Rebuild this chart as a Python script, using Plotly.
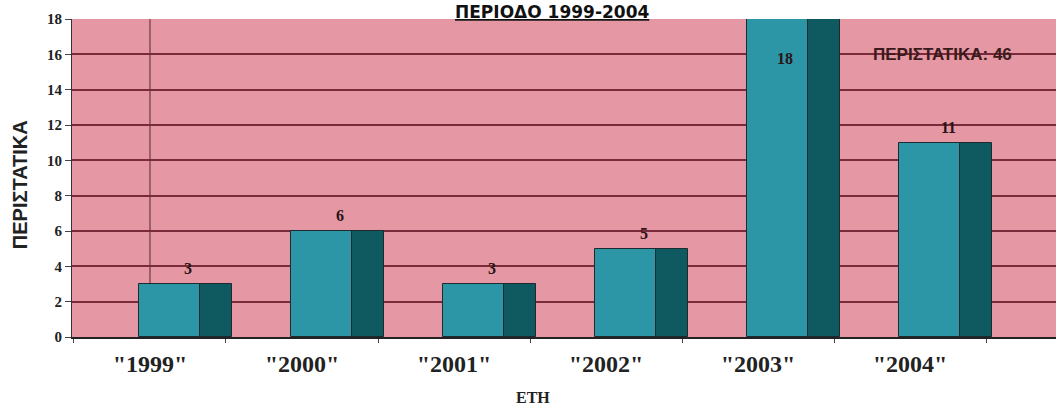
import plotly.graph_objects as go

# ---- data ----
years = ['"1999"', '"2000"', '"2001"', '"2002"', '"2003"', '"2004"']
cases = [3, 6, 3, 5, 18, 11]
total_label = "ΠΕΡΙΣΤΑΤΙΚΑ: " + str(sum(cases))
title_text = "ΠΕΡΙΟΔΟ 1999-2004"
y_title = "ΠΕΡΙΣΤΑΤΙΚΑ"
x_title = "ΕΤΗ"
y_ticks = [0, 2, 4, 6, 8, 10, 12, 14, 16, 18]

PINK = "#E597A3"
FRONT = "#2C95A6"
SIDE = "#0E5A60"
GRID = "#7A2A3A"
DARK = "#2a1418"

fig = go.Figure()
# front face
fig.add_trace(go.Bar(
    x=years, y=cases, offset=-0.07, width=0.40,
    marker=dict(color=FRONT, line=dict(color="#1b2b2e", width=1)),
    showlegend=False, hoverinfo="x+y"))
# side face (3D effect)
fig.add_trace(go.Bar(
    x=years, y=cases, offset=0.33, width=0.21,
    marker=dict(color=SIDE, line=dict(color="#1b2b2e", width=1)),
    showlegend=False, hoverinfo="skip"))

ymax = max(y_ticks)
annotations = []
for yr, v in zip(years, cases):
    if v >= ymax:
        annotations.append(dict(x=yr, y=v, xref="x", yref="y", text=f"<b>{v}</b>",
                                showarrow=False, xshift=27, yanchor="top", yshift=-29,
                                font=dict(family="Liberation Serif", size=16, color=DARK)))
    else:
        annotations.append(dict(x=yr, y=v, xref="x", yref="y", text=f"<b>{v}</b>",
                                showarrow=False, xshift=38, yanchor="bottom", yshift=5,
                                font=dict(family="Liberation Serif", size=16, color=DARK)))

annotations += [
    dict(x=0.488, y=1.022, xref="paper", yref="paper", text=f"<b><u>{title_text}</u></b>",
         showarrow=False, xanchor="center", yanchor="middle", borderpad=0,
         font=dict(family="DejaVu Sans", size=17, color="#111")),
    dict(x=0.885, y=16, xref="paper", yref="y", text=f"<b>{total_label}</b>",
         showarrow=False, xanchor="center", yanchor="middle",
         font=dict(family="Liberation Sans", size=17, color="#3a1a1a")),
    dict(x=-0.052, y=0.48, xref="paper", yref="paper", text=f"<b>{y_title}</b>",
         showarrow=False, textangle=-90, xanchor="center", yanchor="middle",
         font=dict(family="Liberation Sans", size=20, color="#222")),
    dict(x=0.468, y=-0.19, xref="paper", yref="paper", text=f"<b>{x_title}</b>",
         showarrow=False, xanchor="center", yanchor="middle",
         font=dict(family="Liberation Serif", size=16, color="#222")),
]

fig.update_layout(
    width=1056, height=410,
    margin=dict(l=72, r=0, t=19, b=73),
    paper_bgcolor="white", plot_bgcolor=PINK,
    barmode="overlay", bargap=0,
    annotations=annotations,
    shapes=[dict(type="line", xref="x", yref="paper", x0=0, x1=0, y0=0, y1=1,
                 line=dict(color="#6a3a48", width=1.2), layer="below")],
)
fig.update_xaxes(
    type="category", range=[-0.513, 5.96],
    showgrid=False, showline=True, linecolor="#222", linewidth=1.5,
    ticks="outside", tickson="boundaries", ticklen=4, tickcolor="#444",
    tickfont=dict(family="Liberation Serif", size=24, color="#222"),
    tickprefix="<b>", ticksuffix="</b>", ticklabelstandoff=4,
)
fig.update_yaxes(
    range=[0, ymax], tickvals=y_ticks, ticktext=[f"<b>{t}</b>" for t in y_ticks],
    showgrid=True, gridcolor=GRID, gridwidth=1.5,
    showline=True, linecolor="#333", linewidth=1.2,
    ticks="outside", ticklen=6, tickcolor="#444",
    tickfont=dict(family="Liberation Serif", size=15, color="#222"),
    zeroline=False,
)
fig.write_html("out.html")
